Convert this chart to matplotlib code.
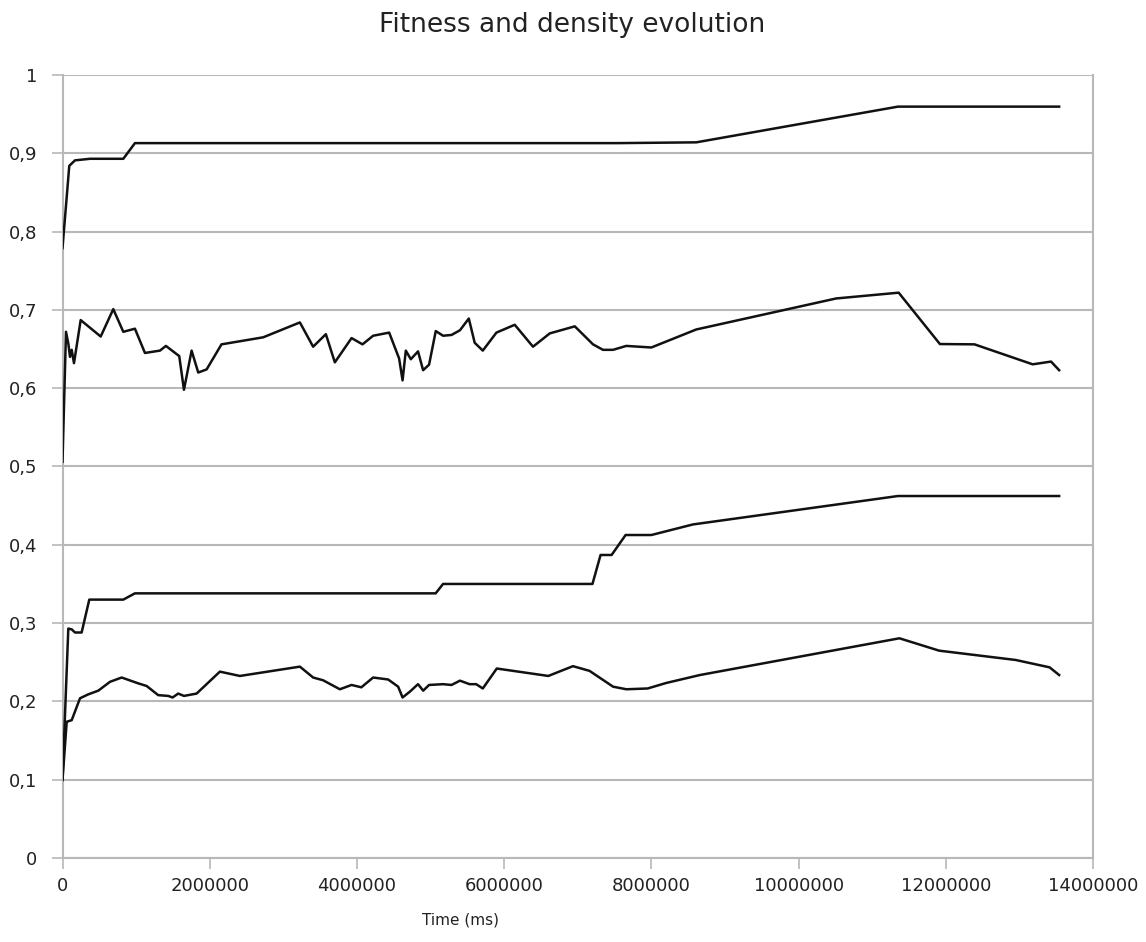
import matplotlib
matplotlib.use("Agg")
import matplotlib.pyplot as plt
from matplotlib.ticker import FuncFormatter, MultipleLocator

# top curve (fitness max)
t_fit_max = [0, 92000, 170000, 374000, 826000, 984000, 7550000, 8610000,
             11350000, 13540000]
fit_max = [0.779, 0.884, 0.891, 0.893, 0.893, 0.913, 0.913, 0.914,
           0.9596, 0.9596]

# second curve (fitness average)
t_fit_avg = [0, 47500, 79000, 102000, 125000, 156000, 247000, 519000, 690000,
             826000, 984000, 1120000, 1324000, 1405000, 1586000, 1650000,
             1754000, 1844000, 1958000, 2160000, 2727000, 3225000, 3405000,
             3578000, 3700000, 3927000, 4076000, 4220000, 4438000, 4573000,
             4620000, 4664000, 4732000, 4830000, 4899000, 4980000, 5071000,
             5170000, 5285000, 5400000, 5520000, 5600000, 5710000, 5895000,
             6144000, 6392000, 6620000, 6960000, 7207000, 7343000, 7479000,
             7660000, 8000000, 8610000, 10510000, 11360000, 11920000,
             12390000, 13180000, 13430000, 13540000]
fit_avg = [0.506, 0.672, 0.657, 0.640, 0.649, 0.632, 0.687, 0.666, 0.701,
           0.672, 0.676, 0.645, 0.648, 0.654, 0.641, 0.598,
           0.648, 0.620, 0.624, 0.656, 0.665, 0.684, 0.653,
           0.669, 0.633, 0.664, 0.656, 0.667, 0.671, 0.638,
           0.610, 0.648, 0.637, 0.647, 0.623, 0.630, 0.673,
           0.667, 0.668, 0.674, 0.689, 0.658, 0.648, 0.671,
           0.681, 0.653, 0.670, 0.679, 0.656, 0.649, 0.649,
           0.654, 0.652, 0.675, 0.7146, 0.722, 0.6564,
           0.656, 0.6305, 0.634, 0.623]

# third curve (density max)
t_dens_max = [0, 79000, 125000, 170000, 260000, 364000, 826000, 984000,
              5070000, 5170000, 7200000, 7310000, 7460000, 7650000, 8000000,
              8565000, 11350000, 13540000]
dens_max = [0.100, 0.293, 0.292, 0.288, 0.288, 0.330, 0.330, 0.338,
            0.338, 0.350, 0.350, 0.387, 0.387, 0.4125, 0.4125,
            0.426, 0.4623, 0.4623]

# bottom curve (density average)
t_dens_avg = [0, 57000, 125000, 238000, 350000, 486000, 645000, 804000,
              1030000, 1143000, 1300000, 1437000, 1496000, 1572000, 1650000,
              1822000, 2138000, 2410000, 3225000, 3405000, 3540000, 3768000,
              3927000, 4060000, 4220000, 4424000, 4560000, 4620000, 4720000,
              4830000, 4900000, 4980000, 5170000, 5285000, 5400000, 5530000,
              5620000, 5710000, 5900000, 6600000, 6935000, 7160000, 7480000,
              7660000, 7950000, 8200000, 8660000, 11370000, 11910000,
              12950000, 13410000, 13540000]
dens_avg = [0.0996, 0.174, 0.176, 0.204, 0.209, 0.2137, 0.225, 0.2305,
            0.223, 0.2197, 0.208, 0.207, 0.205, 0.210, 0.207,
            0.210, 0.238, 0.2325, 0.2444, 0.2305, 0.227, 0.2155,
            0.221, 0.218, 0.2305, 0.228, 0.2188, 0.205, 0.2125,
            0.222, 0.2137, 0.221, 0.222, 0.221, 0.2265, 0.222,
            0.222, 0.2165, 0.242, 0.2325, 0.245, 0.239, 0.2188,
            0.2155, 0.2165, 0.2235, 0.2337, 0.2806, 0.2648,
            0.2529, 0.2435, 0.2337]

fig = plt.figure(figsize=(11.46, 9.42), dpi=100)
ax = fig.add_axes([62.5 / 1146, 1 - 858 / 942, (1093 - 62.5) / 1146, (858 - 75) / 942])

for t, v in [(t_fit_max, fit_max), (t_fit_avg, fit_avg),
             (t_dens_max, dens_max), (t_dens_avg, dens_avg)]:
  ax.plot(t, v, color='#111111', lw=1.8, zorder=3)

ax.set_xlim(0, 14000000)
ax.set_ylim(0, 1)
ax.xaxis.set_major_locator(MultipleLocator(2000000))
ax.yaxis.set_major_locator(MultipleLocator(0.1))
ax.xaxis.set_major_formatter(FuncFormatter(lambda v, p: '%d' % round(v)))
ax.yaxis.set_major_formatter(FuncFormatter(
  lambda v, p: ('%.1f' % v).replace('.', ',') if round(v, 3) not in (0, 1) else '%d' % round(v)))

ax.grid(axis='y', color='#b8b8b8', lw=1.5, zorder=1)
ax.set_axisbelow(True)
for side in ['left', 'bottom', 'right']:
  ax.spines[side].set_color('#b8b8b8')
  ax.spines[side].set_linewidth(1.5)
ax.spines['top'].set_visible(False)
ax.tick_params(axis='both', colors='#b8b8b8', labelcolor='#222222',
               labelsize=13, length=8, width=1.2)
ax.tick_params(axis='y', pad=10)
ax.tick_params(axis='x', pad=6)

fig.text(572 / 1146, 1 - 25 / 942, 'Fitness and density evolution',
         ha='center', va='center', fontsize=19, color='#222222')
fig.text(461 / 1146, 1 - 920 / 942, 'Time (ms)', ha='center', va='center',
         fontsize=11, color='#222222')

fig.savefig('out.png', dpi=100)
